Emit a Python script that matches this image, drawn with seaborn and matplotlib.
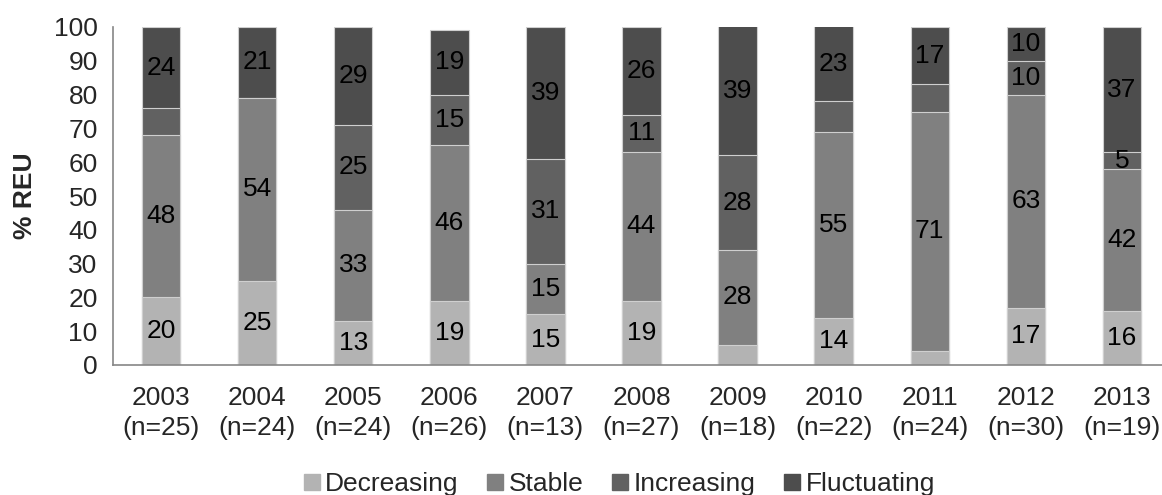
import numpy as np
import pandas as pd
import matplotlib
matplotlib.use("Agg")
import matplotlib.pyplot as plt
from matplotlib.lines import Line2D
import seaborn as sns

years = ["2003", "2004", "2005", "2006", "2007", "2008", "2009", "2010", "2011", "2012", "2013"]
n_counts = [25, 24, 24, 26, 13, 27, 18, 22, 24, 30, 19]
decreasing = [20, 25, 13, 19, 15, 19, 6, 14, 4, 17, 16]
stable = [48, 54, 33, 46, 15, 44, 28, 55, 71, 63, 42]
increasing = [8, 0, 25, 15, 31, 11, 28, 9, 8, 10, 5]
fluctuating = [24, 21, 29, 19, 39, 26, 39, 23, 17, 10, 37]
series_names = ["Decreasing", "Stable", "Increasing", "Fluctuating"]
# segments that carry no number label in the original
unlabelled = {("2003", "Increasing"), ("2004", "Increasing"), ("2009", "Decreasing"),
              ("2010", "Increasing"), ("2011", "Decreasing"), ("2011", "Increasing")}

colors = {"Decreasing": "#b3b3b3", "Stable": "#808080",
          "Increasing": "#616161", "Fluctuating": "#4d4d4d"}
FS = 19

sns.set_style("white")
plt.rcParams["font.family"] = ["Liberation Sans", "DejaVu Sans"]

cats = [f"{y}\n(n={n})" for y, n in zip(years, n_counts)]
df = pd.DataFrame({"cat": cats, "year": years, "Decreasing": decreasing, "Stable": stable,
                   "Increasing": increasing, "Fluctuating": fluctuating})
cum = df[series_names].cumsum(axis=1)

fig = plt.figure(figsize=(11.62, 4.95), dpi=100)
ax = fig.add_axes([113 / 1162, 1 - 365 / 495, 1057 / 1162, 338 / 495])

# stacked bars: draw cumulative totals from the top series down
for name in reversed(series_names):
    sns.barplot(x=df["cat"], y=cum[name], color=colors[name], width=0.4,
                edgecolor="#cfcfcf", linewidth=0.8, saturation=1, ax=ax)

# segment labels, centred in each segment
for i, row in df.iterrows():
    bottom = 0
    for name in series_names:
        v = row[name]
        if v > 0 and (row["year"], name) not in unlabelled:
            top = min(bottom + v, 100)
            ax.text(i, (bottom + top) / 2, str(v), ha="center", va="center",
                    fontsize=FS, color="black")
        bottom += v

ax.set_ylim(0, 100)
ax.set_xlim(-0.5, len(cats) - 0.5)
ax.set_yticks(range(0, 101, 10))
ax.set_xticks(range(len(cats)))
ax.set_xticklabels(cats, fontsize=FS, linespacing=1.3)
ax.set_xticks(np.arange(-0.5, len(cats), 1.0), minor=True)
ax.tick_params(axis="x", which="major", length=0, pad=15)
ax.tick_params(axis="x", which="minor", length=7, width=1.2, color="#868686", direction="out")
ax.tick_params(axis="y", labelsize=FS, length=7, width=1.2, color="#868686", direction="out", pad=4)
ax.set_xlabel("")
ax.set_ylabel("% REU", fontsize=FS, fontweight="bold", labelpad=12)

for side in ["top", "right"]:
    ax.spines[side].set_visible(False)
for side in ["left", "bottom"]:
    ax.spines[side].set_color("#868686")
    ax.spines[side].set_linewidth(1.2)

handles = [Line2D([0], [0], marker="s", linestyle="", markersize=11,
                  markerfacecolor=colors[n], markeredgecolor=colors[n]) for n in series_names]
fig.legend(handles, series_names, loc="center", bbox_to_anchor=(618 / 1162, 1 - 484 / 495),
           ncol=4, frameon=False, fontsize=FS, handletextpad=0.1, columnspacing=1.0,
           handlelength=0.8)

fig.savefig("out.png", dpi=100)
